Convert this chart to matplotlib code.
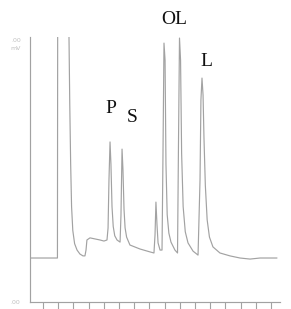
import matplotlib
matplotlib.use("Agg")
import matplotlib.pyplot as plt

# Chromatogram trace (time in min, signal in mV)
time = [0.14, 1.95, 1.97, 1.99, 2.68, 2.71, 2.76, 2.82, 2.88, 2.96, 3.08, 3.24, 3.43, 3.63, 3.76,
        3.83, 3.89, 4.09, 4.42, 4.75, 5.01, 5.21,
        5.28, 5.34, 5.41, 5.47, 5.54, 5.62, 5.72, 5.87, 6.07,
        6.13, 6.20, 6.26, 6.33, 6.40, 6.50, 6.72, 7.38, 8.04, 8.30,
        8.37, 8.43, 8.50, 8.57, 8.70, 8.83,
        8.89, 8.96, 9.03, 9.09, 9.17, 9.28, 9.42, 9.68, 9.85,
        9.91, 9.98, 10.05, 10.12, 10.22, 10.36, 10.54, 10.87, 11.20,
        11.33, 11.39, 11.46, 11.53, 11.59, 11.68, 11.80, 11.95, 12.18, 12.64, 13.30,
        13.96, 14.62, 15.28, 15.93, 16.38]
signal = [16.6, 16.6, 130, 130, 130, 100, 75.0, 52.0, 36.0, 27.0, 22.0, 19.6, 18.1, 17.4, 17.4,
          19.6, 23.4, 24.2, 23.8, 23.4, 23.0, 23.4,
          27.9, 46.0, 60.4, 52.0, 36.0, 28.5, 25.0, 23.4, 22.6,
          32.8, 57.7, 50.0, 35.0, 28.0, 24.5, 21.5, 20.0, 18.9, 18.5,
          25.3, 37.7, 29.1, 22.3, 19.6, 19.6,
          53.6, 97.7, 91.3, 52.0, 33.0, 26.0, 22.6, 19.6, 18.5,
          57.4, 99.6, 91.3, 56.0, 36.0, 26.5, 22.3, 19.2, 17.7,
          46.0, 76.2, 84.5, 78.1, 62.0, 44.0, 31.0, 24.5, 20.8, 18.5, 17.4,
          16.6, 16.2, 16.6, 16.6, 16.6]

peak_labels = ["P", "S", "OL", "L"]
peak_label_t = [5.47, 6.86, 9.62, 11.76]
peak_label_v = [73.0, 69.8, 106.6, 90.8]

x_ticks = list(range(1, 17))

W, H = 291, 309
fig = plt.figure(figsize=(W / 100, H / 100), dpi=100)
fig.patch.set_facecolor("white")
ax = fig.add_axes([30 / W, (H - 302) / H, (280 - 30) / W, (302 - 37) / H])
ax.set_facecolor("white")

gray = "#a2a2a2"
ax.plot(time, signal, color=gray, lw=0.85, solid_joinstyle="round")

ax.set_xlim((30 - 27.8) / 15.2, (280 - 27.8) / 15.2)
ax.set_ylim(0, 100)

for s in ["top", "right"]:
    ax.spines[s].set_visible(False)
for s in ["left", "bottom"]:
    ax.spines[s].set_color(gray)
    ax.spines[s].set_linewidth(0.85)

ax.set_xticks(x_ticks)
ax.set_xticklabels([])
ax.tick_params(axis="x", direction="out", length=5, width=0.8, color=gray)
ax.set_yticks([])

for lab, t, v in zip(peak_labels, peak_label_t, peak_label_v):
    ax.text(t, v, lab, ha="center", va="center", fontsize=14,
            family="Liberation Serif", color="#111111", clip_on=False)

fig.text(16 / W, 1 - 40 / H, ".00", fontsize=4.5, color="#c0c0c0", ha="center", va="center")
fig.text(16 / W, 1 - 48 / H, "mV", fontsize=4.5, color="#c0c0c0", ha="center", va="center")
fig.text(15 / W, 1 - 303 / H, ".00", fontsize=4.5, color="#c0c0c0", ha="center", va="center")

fig.savefig("out.png", dpi=100, facecolor="white")
